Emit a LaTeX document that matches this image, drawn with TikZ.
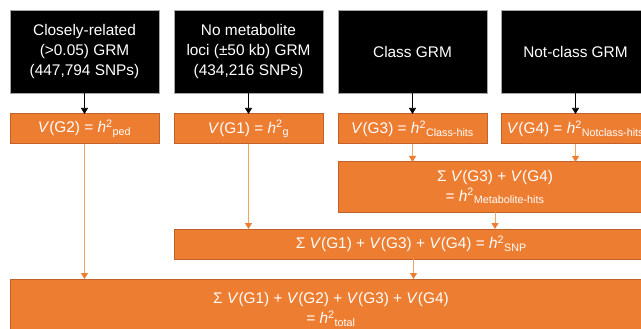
\documentclass[tikz,border=0pt]{standalone}
\usepackage{fontspec}
\setmainfont{Liberation Sans}
\usetikzlibrary{arrows.meta, positioning, calc}
\definecolor{grmorange}{HTML}{ED7D31}
\definecolor{grmedge}{HTML}{C0622A}
\definecolor{grmline}{HTML}{F4A361}

\begin{document}
\begin{tikzpicture}[
        font=\fontsize{15.4}{20}\selectfont,
        >={Triangle[length=6pt, width=7pt]},
        grm/.style={draw=gray!70, line width=0.6pt, fill=black, text=white, align=center, minimum width=149pt, minimum height=83pt, inner sep=2pt, outer sep=0pt},
        var/.style={draw=grmedge, line width=1pt, fill=grmorange, text=white, align=center, minimum width=149pt, minimum height=30pt, inner sep=2pt, outer sep=0pt},
        sumbox/.style={var, minimum width=#1},
        arrow/.style={->, line width=0.6pt, black},
        oarrow/.style={-{Triangle[length=6pt, width=7pt, color=grmorange]}, line width=0.8pt, grmline}
    ]
        \path[use as bounding box] (0,0) rectangle (641pt,-329pt);
        \clip (0,0) rectangle (641pt,-329pt);

        \node[grm, anchor=north west] (closegrm) at (10pt,-10pt) {Closely-related\\(>0.05) GRM\\(447,794 SNPs)};
        \node[grm, right=15pt of closegrm] (nometgrm) {No metabolite\\loci (±50 kb) GRM\\(434,216 SNPs)};
        \node[grm, right=15pt of nometgrm] (classgrm) {Class GRM};
        \node[grm, right=14pt of classgrm] (notclassgrm) {Not-class GRM};

        \node[var, below=21pt of closegrm] (vped) {\textit{V}(G2) = \textit{h}\textsuperscript{2}\textsubscript{ped}};
        \node[var, below=21pt of nometgrm] (vg) {\textit{V}(G1) = \textit{h}\textsuperscript{2}\textsubscript{g}};
        \node[var, below=21pt of classgrm] (vclass) {\textit{V}(G3) = \textit{h}\textsuperscript{2}\textsubscript{Class-hits}};
        \node[var, below=21pt of notclassgrm] (vnotclass) {\textit{V}(G4) = \textit{h}\textsuperscript{2}\textsubscript{Notclass-hits}};

        \node[sumbox=314pt, minimum height=50pt, anchor=north west] (vmeta) at ($(vclass.south west)+(0,-18pt)$) {
            Σ \textit{V}(G3) + \textit{V}(G4)\\
            = \textit{h}\textsuperscript{2}\textsubscript{Metabolite-hits}
        };
        \node[sumbox=479pt, anchor=north west] (vsnp) at ($(vg.south west |- vmeta.south)+(0,-17pt)$) {
            Σ \textit{V}(G1) + \textit{V}(G3) + \textit{V}(G4) = \textit{h}\textsuperscript{2}\textsubscript{SNP}
        };
        \node[sumbox=642pt, minimum height=61pt, anchor=north west] (vtotal) at ($(vped.south west |- vsnp.south)+(0,-20pt)$) {
            Σ \textit{V}(G1) + \textit{V}(G2) + \textit{V}(G3) + \textit{V}(G4)\\
            = \textit{h}\textsuperscript{2}\textsubscript{total}
        };

        \draw[arrow] (closegrm) -- (vped);
        \draw[arrow] (nometgrm) -- (vg);
        \draw[arrow] (classgrm) -- (vclass);
        \draw[arrow] (notclassgrm) -- (vnotclass);
        \draw[oarrow] (vclass.south) -- (vclass.south |- vmeta.north);
        \draw[oarrow] (vnotclass.south) -- (vnotclass.south |- vmeta.north);
        \draw[oarrow] (vg.south) -- (vg.south |- vsnp.north);
        \draw[oarrow] (vmeta.south) -- (vmeta.south |- vsnp.north);
        \draw[oarrow] (vped.south) -- (vped.south |- vtotal.north);
        \draw[oarrow] (vsnp.south) -- (vsnp.south |- vtotal.north);
    \end{tikzpicture}
\end{document}
